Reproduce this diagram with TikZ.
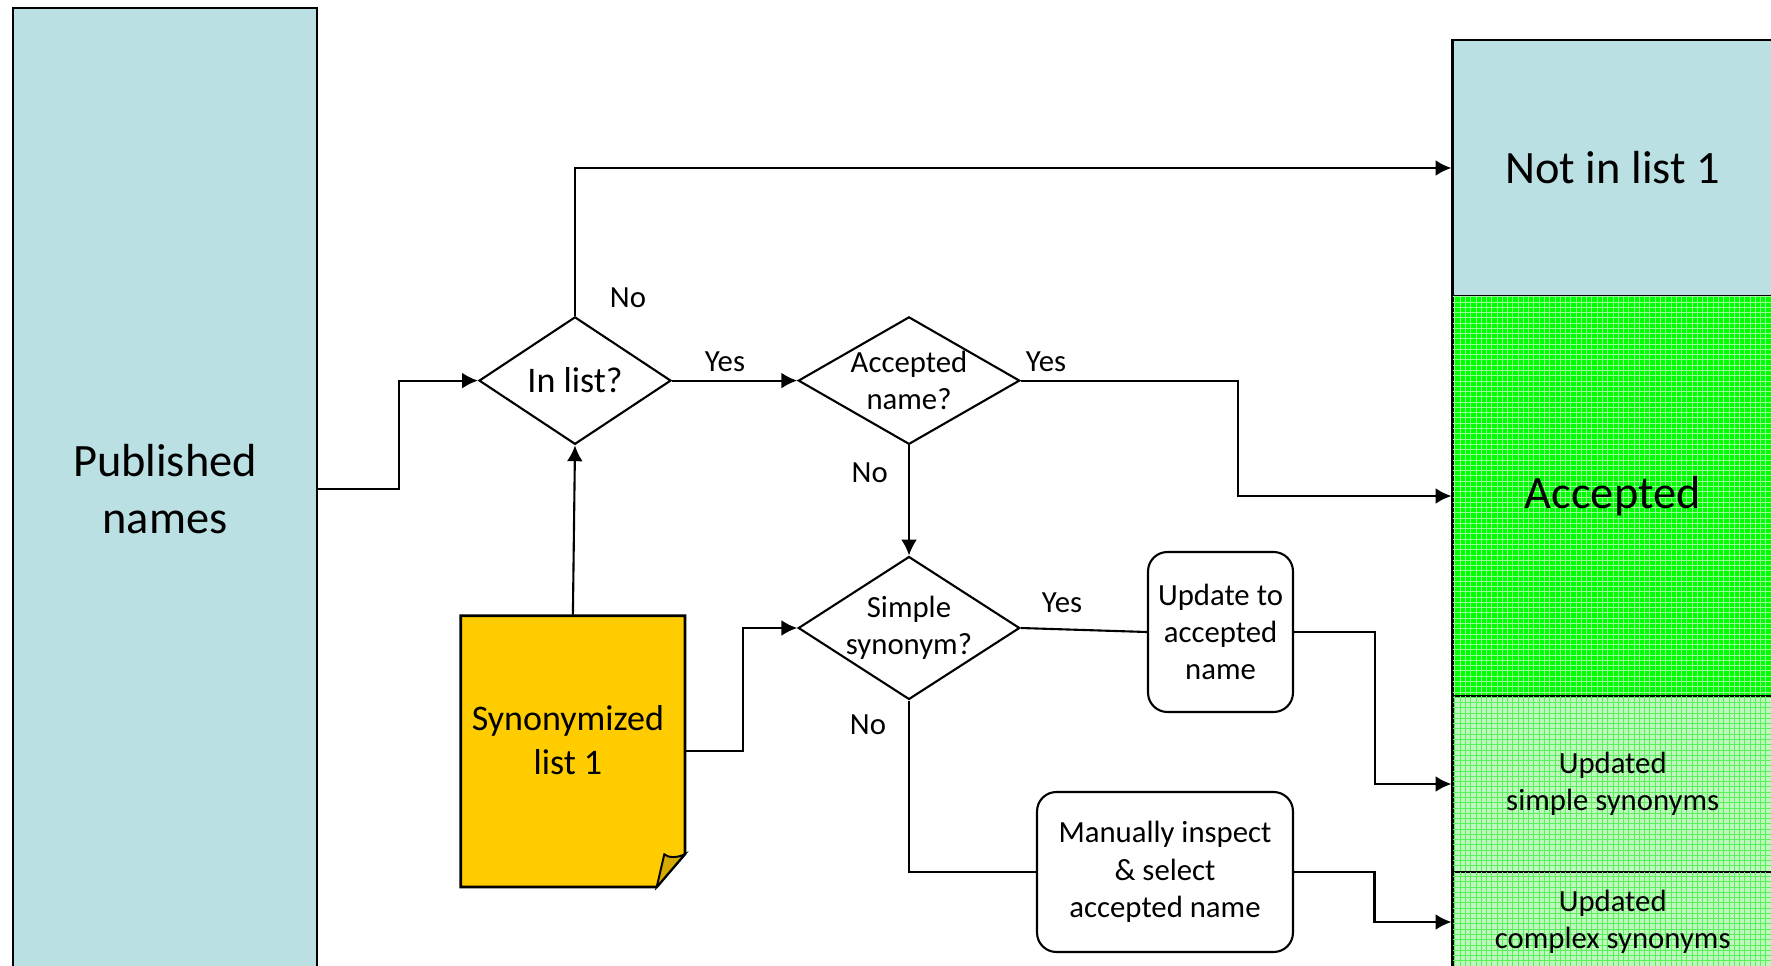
\documentclass[tikz,border=0pt]{standalone}
\usepackage{fontspec}
\setmainfont{Carlito}
\usetikzlibrary{shapes.geometric,arrows.meta,patterns}

\definecolor{paleblue}{RGB}{186,224,227}
\definecolor{listgold}{RGB}{255,204,0}
\definecolor{foldgold}{RGB}{212,170,0}
\definecolor{accgreen}{RGB}{0,255,0}
\definecolor{accmesh}{RGB}{150,255,150}
\definecolor{updgreen}{RGB}{190,248,190}
\definecolor{updmesh}{RGB}{90,240,90}

\newcommand{\bigtxt}{\fontsize{26.4}{32.2}\selectfont}
\newcommand{\midtxt}{\fontsize{20.5}{25}\selectfont}
\newcommand{\smalltxt}{\fontsize{17.5}{21.3}\selectfont}

\tikzset{
  outbox/.style={draw, line width=1.5pt, minimum width=6.4cm, inner sep=0pt, align=center},
  decision/.style={diamond, draw, line width=1.2pt, inner sep=0pt},
  task/.style={draw, line width=1.2pt, rounded corners=11pt, inner sep=0pt, align=center, font=\smalltxt},
  lbl/.style={inner sep=0pt, font=\smalltxt},
}

\begin{document}
\begin{tikzpicture}[x=0.02cm, y=-0.02cm, line width=1.2pt, >={Latex[length=9pt,width=9pt]}]
\useasboundingbox (0,0) rectangle (1771,966);

% input names
\node[outbox, fill=paleblue, minimum width=6.08cm, minimum height=19.24cm, font=\bigtxt] (pub) at (165,489) {Published\\names};

% result columns
\node[outbox, fill=paleblue, minimum height=5.12cm, font=\bigtxt] (notin) at (1612.7,168) {Not in list 1};
\node[outbox, fill=accgreen, postaction={pattern=grid, pattern color=accmesh}, minimum height=8cm, font=\bigtxt] (acc) at (1612.7,496) {Accepted};
\node[outbox, fill=updgreen, postaction={pattern=grid, pattern color=updmesh}, minimum height=3.52cm, font=\smalltxt] (upsimple) at (1612.7,784) {Updated\\simple synonyms};
\node[outbox, fill=updgreen, postaction={pattern=grid, pattern color=updmesh}, minimum height=2cm, font=\smalltxt] (upcomplex) at (1612.7,922) {Updated\\complex synonyms};

% synonymized list, page with a turned corner
\filldraw[fill=listgold, line width=1.5pt] (460.7,615.7) -- (685,615.7) -- (685,854) -- (656.7,887) -- (460.7,887) -- cycle;
\filldraw[fill=foldgold, line width=1.1pt] (656.7,887) -- (664.3,854.3) .. controls (668,858) and (678,858) .. (685,854) -- cycle;
\node[minimum width=4.49cm, minimum height=5.43cm, inner sep=0pt,
      label={[font=\midtxt, align=center, inner sep=0pt, xshift=-0.1cm, yshift=0.22cm]center:Synonymized\\list 1}] (synlist) at (572.9,751.4) {};

% decisions
\node[decision, minimum width=3.84cm, minimum height=2.55cm, label={[font=\midtxt, inner sep=0pt]center:In list?}] (inlist) at (575,380.6) {};
\node[decision, minimum width=4.43cm, minimum height=2.55cm, label={[lbl, align=center]center:Accepted\\name?}] (accname) at (909,380.6) {};
\node[decision, minimum width=4.43cm, minimum height=2.86cm, label={[lbl, align=center]center:Simple\\synonym?}] (simple) at (909,628) {};

% actions
\node[task, minimum width=2.9cm, minimum height=3.2cm] (update) at (1220.5,632) {Update to\\accepted\\name};
\node[task, minimum width=5.12cm, minimum height=3.2cm] (manual) at (1165,872) {Manually inspect\\\& select\\accepted name};

% connectors
\draw[->] (pub.east) -- ++(81,0) |- (inlist.west);
\draw[->] (inlist.north) |- (notin.west);
\draw[->] (inlist.east) -- (accname.west);
\draw[->] (accname.east) -- ++(216.8,0) |- (acc.west);
\draw[->] (accname.south) -- (simple.north);
\draw[->] (synlist.north) -- (inlist.south);
\draw[->] (synlist.east) -- ++(57,0) |- (simple.west);
\draw (simple.east) -- (update.west);
\draw[->] (update.east) -- ++(80.5,0) |- (upsimple.west);
\draw (simple.south) |- (manual.west);
\draw[->] (manual.east) -- ++(80.5,0) |- (upcomplex.west);

% branch labels
\path (628,298) node[lbl] (noinlist) {No};
\path (725,361.5) node[lbl] (yesinlist) {Yes};
\path (1046,361.5) node[lbl] (yesacc) {Yes};
\path (869.7,473) node[lbl] (noacc) {No};
\path (1062,603) node[lbl] (yessimple) {Yes};
\path (868,725) node[lbl] (nosimple) {No};

\end{tikzpicture}
\end{document}
